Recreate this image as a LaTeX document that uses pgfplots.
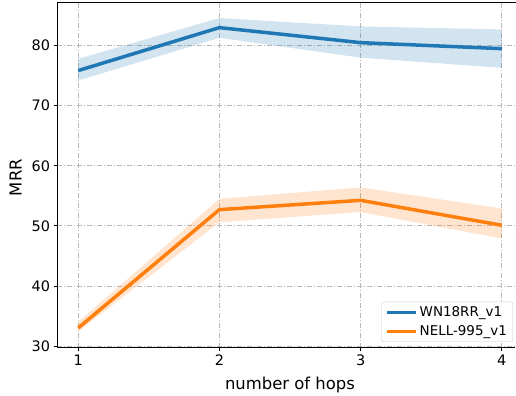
\documentclass[border=0pt]{standalone}
\usepackage{fontspec}
\setmainfont{DejaVu Sans}
\usepackage{pgfplots}
\pgfplotsset{compat=1.18}
\usepgfplotslibrary{fillbetween}
\definecolor{c1}{HTML}{1F77B4}
\definecolor{c2}{HTML}{FF7F0E}
\begin{document}
\begin{tikzpicture}
\begin{axis}[
  at={(57bp,48bp)}, anchor=south west,
  scale only axis, width=466bp, height=345bp,
  xmin=0.85, xmax=4.15, ymin=29.67, ymax=87.1,
  xtick={1,2,3,4}, ytick={30,40,50,60,70,80},
  axis x line*=box, axis y line*=left,
  tick align=outside, xtick pos=bottom, ytick pos=left,
  major tick length=3.5bp,
  every tick/.style={black, line width=0.8bp},
  axis line style={line width=1bp, -},
  /pgf/number format/assume math mode=true,
  tick label style={font=\fontsize{14.5}{17}\selectfont},
  grid=major,
  major grid style={color=black!28, line width=0.8bp, dash pattern=on 5bp off 2bp on 1bp off 2bp},
  xlabel={number of hops}, ylabel={MRR},
  label style={font=\fontsize{16.5}{19}\selectfont},
  xlabel style={at={(axis description cs:0.5,-0.119)}, anchor=base},
  ylabel style={at={(axis description cs:-0.089,0.494)}, anchor=center},
  legend style={at={(axis description cs:1,0)}, anchor=south east, xshift=-10bp, yshift=6bp,
    draw=black!20, rounded corners=2bp, fill=white, fill opacity=0.8, text opacity=1,
    font=\fontsize{13.5}{16}\selectfont, row sep=3bp, inner xsep=4bp, inner ysep=3bp},
  legend cell align=left,
  legend image code/.code={\draw[#1, line width=3bp] (0bp,0bp) -- (29bp,0bp);},
]
% bands
\addplot[name path=bu, draw=none, forget plot] coordinates {(1,77.8)(2,84.6)(3,83.2)(4,82.7)};
\addplot[name path=bl, draw=none, forget plot] coordinates {(1,74.2)(2,81.3)(3,78.0)(4,76.3)};
\addplot[fill=c1, fill opacity=0.2, draw=none, forget plot] fill between[of=bu and bl];
\addplot[name path=ou, draw=none, forget plot] coordinates {(1,34.0)(2,54.5)(3,56.4)(4,52.9)};
\addplot[name path=ol, draw=none, forget plot] coordinates {(1,32.4)(2,50.6)(3,52.3)(4,47.9)};
\addplot[fill=c2, fill opacity=0.2, draw=none, forget plot] fill between[of=ou and ol];
% lines
\addplot[c1, line width=3.5bp, line join=round] coordinates {(1,75.85)(2,83.0)(3,80.5)(4,79.5)};
\addlegendentry{WN18RR\_v1}
\addplot[c2, line width=3.5bp, line join=round] coordinates {(1,33.0)(2,52.7)(3,54.25)(4,50.1)};
\addlegendentry{NELL-995\_v1}
\end{axis}
\pgfresetboundingbox
\useasboundingbox (0bp,0bp) rectangle (516bp,396bp);
\fill[white] (515.2bp,6bp) rectangle (517bp,390bp);
\end{tikzpicture}
\end{document}
